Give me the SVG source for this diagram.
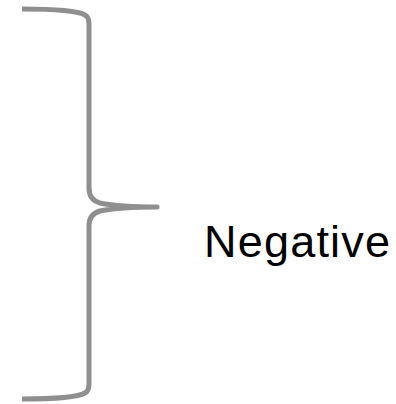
<svg xmlns="http://www.w3.org/2000/svg" width="396" height="404" viewBox="0 0 396 404">
<style>
.brace{fill:none;stroke:#8f8f8f;stroke-width:5;stroke-linecap:butt;stroke-linejoin:round}
.lbl{font-family:"Liberation Sans",Arial,sans-serif;font-size:45px;letter-spacing:1.2px;fill:#000}
</style>
<g id="connectors">
<path class="brace" d="M22,9 C60,9 78,11 85,15 Q89,17 89,24 L89,188 Q89,200 100,203 Q120,207 157,207 Q120,207 100,211 Q89,214 89,226 L89,384 Q89,391 85,393 C78,397 60,399 22,399"/>
</g>
<g id="label">
<text class="lbl" x="204" y="257">Negative</text>
</g>
</svg>
